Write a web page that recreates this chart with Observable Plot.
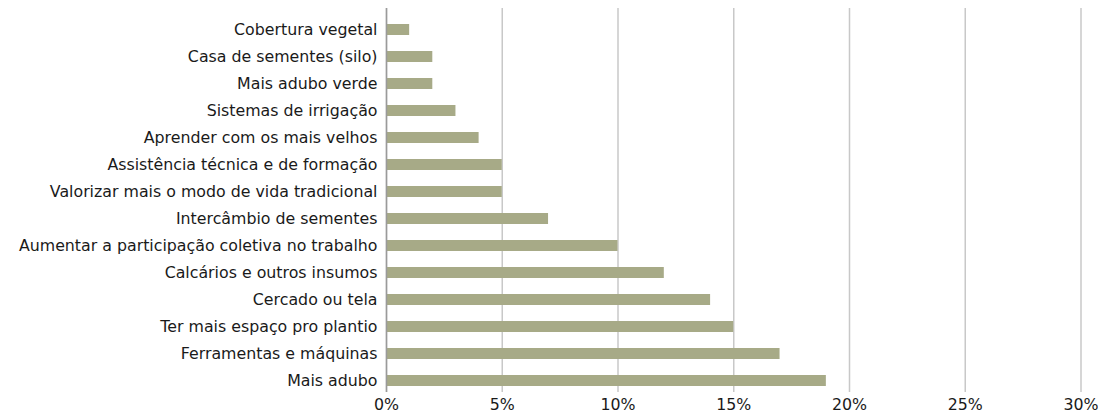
<!DOCTYPE html>
<html>
<head>
<meta charset="utf-8">
<script src="https://cdn.jsdelivr.net/npm/d3@7"></script>
<script src="https://cdn.jsdelivr.net/npm/@observablehq/plot@0.6"></script>
<style>
  html, body { margin: 0; padding: 0; background: #fff; }
  #chart svg { display: block; }
</style>
</head>
<body>
<div id="chart"></div>
<script>
const categories = [
  "Cobertura vegetal",
  "Casa de sementes (silo)",
  "Mais adubo verde",
  "Sistemas de irrigação",
  "Aprender com os mais velhos",
  "Assistência técnica e de formação",
  "Valorizar mais o modo de vida tradicional",
  "Intercâmbio de sementes",
  "Aumentar a participação coletiva no trabalho",
  "Calcários e outros insumos",
  "Cercado ou tela",
  "Ter mais espaço pro plantio",
  "Ferramentas e máquinas",
  "Mais adubo"
];
const values = [1, 2, 2, 3, 4, 5, 5, 7, 10, 12, 14, 15, 17, 19];
const xTicks = [0, 5, 10, 15, 20, 25, 30];

const data = categories.map((c, i) => ({category: c, value: values[i]}));

const chart = Plot.plot({
  width: 1098,
  height: 415,
  marginLeft: 386,
  marginRight: 17.5,
  marginTop: 8,
  marginBottom: 23,
  style: {fontFamily: "'DejaVu Sans', sans-serif", fontSize: "15.8px", color: "#1a1a1a", background: "#fff"},
  x: {domain: [0, 30]},
  y: {domain: categories, range: [19, 391], paddingInner: 0.6, paddingOuter: 0},
  marks: [
    Plot.gridX({ticks: xTicks, stroke: "#c8c8c8", strokeOpacity: 1, strokeWidth: 1.5}),
    Plot.barX(data, {x: "value", y: "category", fill: "#a7aa87"}),
    Plot.ruleX([0], {stroke: "#9a9a9a", strokeWidth: 1.5}),
    Plot.axisX({ticks: xTicks, tickFormat: d => d + "%", tickSize: 0, tickPadding: 6, fontSize: 15.8, label: null}),
    Plot.axisY({tickSize: 0, tickPadding: 9, fontSize: 15.8, label: null})
  ]
});
document.getElementById("chart").appendChild(chart);
</script>
</body>
</html>
